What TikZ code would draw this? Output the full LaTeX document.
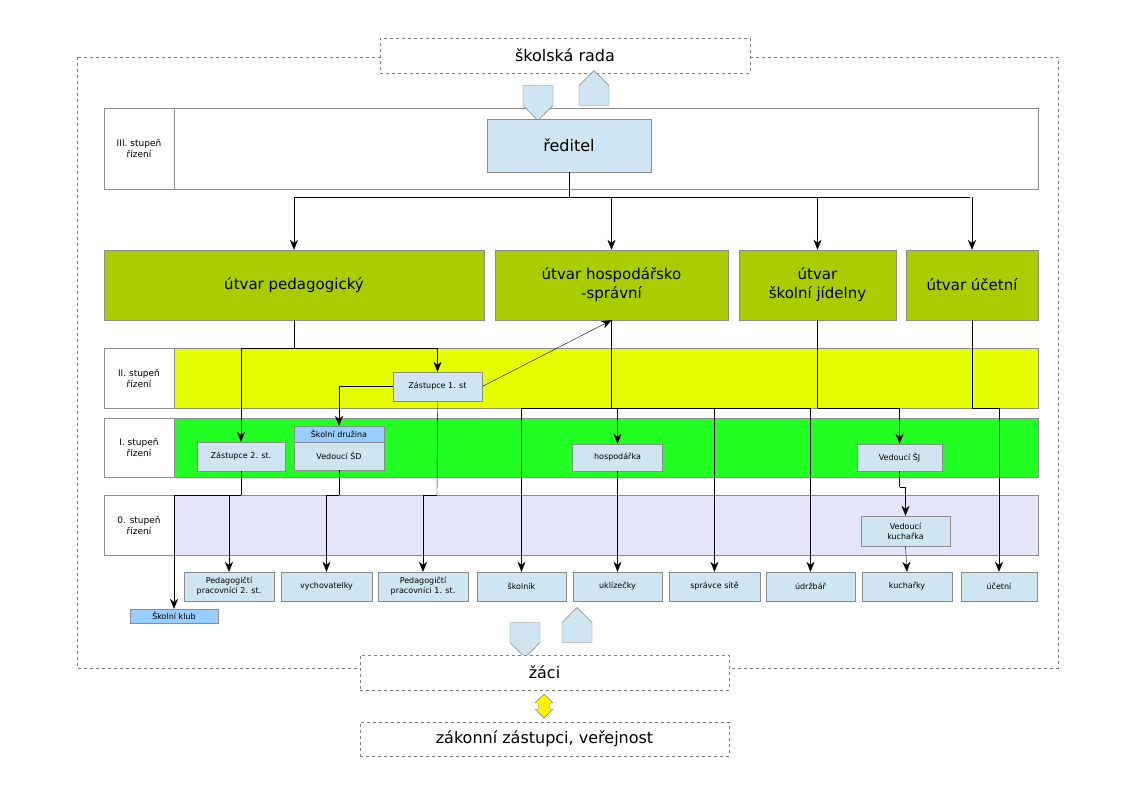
\documentclass[tikz,border=0pt]{standalone}
\usepackage{fontspec}
\setmainfont{DejaVu Sans}
\usetikzlibrary{arrows.meta,shapes.arrows}
\definecolor{bb}{HTML}{CFE6F2}
\definecolor{olive}{HTML}{AACC00}
\definecolor{yel}{HTML}{E5FF00}
\definecolor{grn}{HTML}{22FF22}
\definecolor{lav}{HTML}{E6E6FA}
\definecolor{hdr}{HTML}{99CCFF}
\tikzset{
 sb/.style={draw=gray!90,fill=bb,inner sep=0pt,align=center,font=\fontsize{8}{10}\selectfont},
 ut/.style={draw=gray!90,fill=olive,inner sep=0pt,align=center,font=\fontsize{15}{19}\selectfont},
 band/.style={draw=gray!90,inner sep=0pt},
 lab/.style={draw=gray!90,fill=white,inner sep=0pt,align=center,font=\fontsize{9}{11}\selectfont},
 big/.style={draw=gray,dashed,fill=white,inner sep=0pt,font=\fontsize{16}{19}\selectfont},
 con/.style={draw=black,-{Stealth[length=10pt,width=8pt]}},
 ln/.style={draw=black},
 barr/.style={single arrow,draw=gray,fill=bb,minimum height=35,minimum width=30,single arrow head extend=0pt,inner sep=5pt,single arrow tip angle=90},
}
\begin{document}
\begin{tikzpicture}[x=1pt,y=-1pt]
\useasboundingbox (0,0) rectangle (1123,794);
\draw[gray,dashed] (77,57) rectangle (1058,668);
\node[big,minimum width=370,minimum height=35] (rada) at (565,55.5) {školská rada};
% bands
\node[band,fill=white,minimum width=864,minimum height=81] (b3) at (606,148.5) {};
\node[lab,minimum width=70,minimum height=81] (l3) at (139,148.5) {III. stupeň\\řízení};
\node[band,fill=yel,minimum width=864,minimum height=60] (b2) at (606,378) {};
\node[lab,minimum width=70,minimum height=60] (l2) at (139,378) {II. stupeň\\řízení};
\node[band,fill=grn,minimum width=864,minimum height=59] (b1) at (606,447.5) {};
\node[lab,minimum width=70,minimum height=59] (l1) at (139,447.5) {I. stupeň\\řízení};
\node[band,fill=lav,minimum width=864,minimum height=60] (b0) at (606,525) {};
\node[lab,minimum width=70,minimum height=60] (l0) at (139,525) {0. stupeň\\řízení};
% block arrows top
\node[barr,shape border rotate=270,minimum height=35] (ad) at (538,95.5) {};
\node[barr,shape border rotate=90,minimum height=35] (au) at (594,95.5) {};
\node[sb,minimum width=164,minimum height=53,font=\fontsize{16}{19}\selectfont] (red) at (569,145.5) {ředitel};
% utvary
\node[ut,minimum width=380,minimum height=70] (uped) at (294,285) {útvar pedagogický};
\node[ut,minimum width=233,minimum height=70] (uhos) at (611.5,285) {útvar hospodářsko\\-správní};
\node[ut,minimum width=157,minimum height=70] (usj) at (817.5,285) {útvar\\školní jídelny};
\node[ut,minimum width=132,minimum height=70] (uuc) at (972,285) {útvar účetní};
% level boxes
\node[sb,minimum width=89,minimum height=29] (z1) at (437.5,386.5) {Zástupce 1. st};
\node[sb,minimum width=88,minimum height=29] (z2) at (241,456.5) {Zástupce 2. st.};
\node[sb,fill=hdr,minimum width=90,minimum height=16] (sd) at (339,434) {Školní družina};
\node[sb,minimum width=90,minimum height=28] (vsd) at (339,456) {Vedoucí ŠD};
\node[sb,minimum width=90,minimum height=27] (hos) at (617.5,457.5) {hospodářka};
\node[sb,minimum width=85,minimum height=27] (vsj) at (899.5,457.5) {Vedoucí ŠJ};
\node[sb,minimum width=89,minimum height=30] (vk) at (905.5,531) {Vedoucí\\kuchařka};
% bottom boxes
\node[sb,minimum width=90,minimum height=29] (p2) at (229,586.5) {Pedagogičtí\\pracovníci 2. st.};
\node[sb,minimum width=91,minimum height=29] (vy) at (326.5,586.5) {vychovatelky};
\node[sb,minimum width=90,minimum height=29] (p1) at (423,586.5) {Pedagogičtí\\pracovníci 1. st.};
\node[sb,minimum width=89,minimum height=29] (sk) at (521.5,586.5) {školník};
\node[sb,minimum width=89,minimum height=29] (uk) at (617.5,586.5) {uklízečky};
\node[sb,minimum width=91,minimum height=29] (ss) at (714.5,586.5) {správce sítě};
\node[sb,minimum width=89,minimum height=29] (ud) at (810.5,586.5) {údržbář};
\node[sb,minimum width=90,minimum height=29] (ku) at (907,586.5) {kuchařky};
\node[sb,minimum width=76,minimum height=29] (uc) at (999,586.5) {účetní};
\node[sb,fill=hdr,minimum width=88,minimum height=14] (kl) at (174,616) {Školní klub};
% connectors
\coordinate (r1) at (569,197);
\draw[ln] (red.south) -- (r1);
\draw[ln] (294,197) -- (970,197);
\draw[con] (r1 -| uped) -- (uped.north);
\draw[con] (r1 -| uhos) -- (uhos.north);
\draw[con] (r1 -| usj) -- (usj.north);
\draw[con] (r1 -| uuc) -- (uuc.north);
% pedagogicky
\coordinate (pj) at (294,348);
\draw[ln] (uped.south) -- (pj);
\draw[con] (pj) -| (z2.north);
\draw[con] (pj) -| (z1.north);
\draw[con] (z1.west) -| (sd.north);
\draw[-{Stealth[length=10pt,width=8pt]}] (z1.east) -- (uhos.south);
\coordinate (z1j) at (437,495);
\draw[ln] (z1.south) -- (z1j);
\draw[con] (z1j) -| (p1.north);
\coordinate (z2j) at (241,495);
\draw[ln] (z2.south) -- (z2j);
\draw[con] (z2j) -| (kl.north);
\draw[con] (z2j -| p2) -- (p2.north);
\coordinate (sdj) at (339,495);
\draw[ln] (vsd.south) -- (sdj);
\draw[con] (sdj) -| (vy.north);
% hospodarsko
\coordinate (hj) at (611.5,408);
\draw[ln] (uhos.south) -- (hj);
\draw[ln] (hj -| sk) -- (hj -| ud);
\draw[con] (hj -| sk) -- (sk.north);
\draw[con] (hj -| hos) -- (hos.north);
\draw[con] (hj -| ss) -- (ss.north);
\draw[con] (hj -| ud) -- (ud.north);
\draw[con] (hos.south) -- (uk.north);
% SJ
\coordinate (sj) at (817.5,408);
\draw[ln] (usj.south) -- (sj);
\draw[con] (sj) -| (vsj.north);
\coordinate (sj2) at (899.5,487);
\draw[ln] (vsj.south) -- (sj2);
\draw[con] (sj2) -| (vk.north);
\draw[con] (vk.south) -- (ku.north);
% ucetni
\coordinate (uj) at (972,408);
\draw[ln] (uuc.south) -- (uj);
\draw[con] (uj) -| (uc.north);
% bottom
\node[barr,shape border rotate=270] (bd) at (525,632.5) {};
\node[barr,shape border rotate=90] (bu) at (577,632.5) {};
\node[big,minimum width=369,minimum height=35] (zaci) at (544.5,672.5) {žáci};
\node[double arrow,draw=gray,fill=yellow,shape border rotate=90,minimum height=24,minimum width=18,inner sep=3pt,double arrow head extend=2pt] (da) at (544,706) {};
\node[big,minimum width=369,minimum height=34] (zak) at (544.5,739) {zákonní zástupci, veřejnost};
\end{tikzpicture}
\end{document}
